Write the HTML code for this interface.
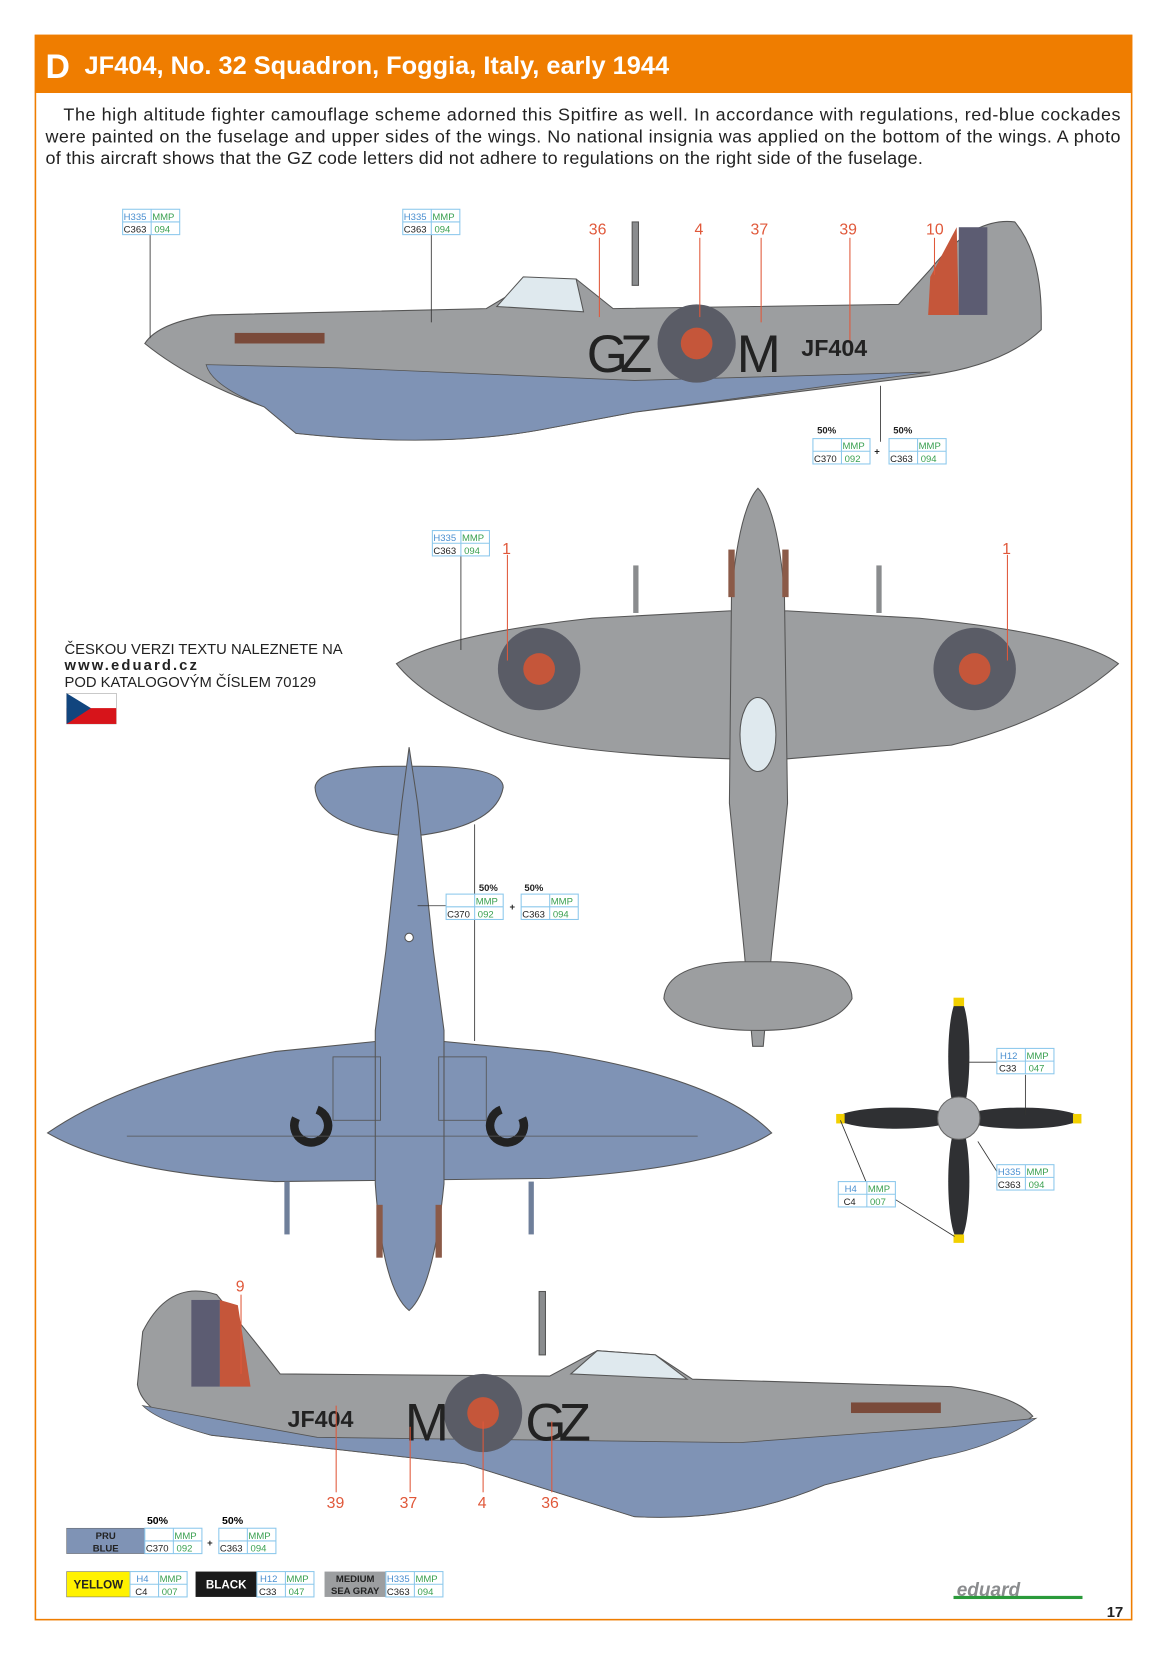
<!DOCTYPE html>
<html><head><meta charset="utf-8"><style>
html,body{margin:0;padding:0;background:#fff;width:1166px;height:1654px;overflow:hidden}
svg{display:block}
text{font-family:"Liberation Sans",sans-serif}
.c{font-size:9px}
.r{fill:#e0583a;font-size:15px}
</style></head><body>
<svg width="1166" height="1654" viewBox="0 0 1103 1565" preserveAspectRatio="none" xmlns="http://www.w3.org/2000/svg">
<defs>
<g id="box">
<rect x="0" y="0" width="54" height="24" fill="#fff" stroke="#8cc8ec" stroke-width="1"/>
<line x1="0" y1="12" x2="54" y2="12" stroke="#8cc8ec"/>
<line x1="27" y1="0" x2="27" y2="24" stroke="#8cc8ec"/>
</g>
</defs>
<rect x="33.5" y="33.5" width="1037" height="1499" fill="#fff" stroke="#ef7d00" stroke-width="1.5"/>
<rect x="33" y="33" width="1038" height="55" fill="#ef7d00"/>
<text x="43" y="74" fill="#fff" font-size="32" font-weight="bold">D</text>
<text x="80" y="70" fill="#fff" font-size="24" font-weight="bold">JF404, No. 32 Squadron, Foggia, Italy, early 1944</text>
<g font-size="17" fill="#222">
<text x="60" y="114" textLength="1000">The high altitude fighter camouflage scheme adorned this Spitfire as well. In accordance with regulations, red-blue cockades</text>
<text x="43" y="135" textLength="1017">were painted on the fuselage and upper sides of the wings. No national insignia was applied on the bottom of the wings. A photo</text>
<text x="43" y="155" textLength="830">of this aircraft shows that the GZ code letters did not adhere to regulations on the right side of the fuselage.</text>
</g>

<!-- TOP SIDE VIEW -->
<path d="M137,325 Q150,305 200,298 L460,292 L500,268 L545,264 L580,292 L850,288 L880,255 Q920,205 960,210 Q985,240 985,300 L985,312 Q950,345 880,355 L600,390 L520,405 Q420,425 280,410 L250,385 Q180,360 137,325 Z" fill="#9c9ea0" stroke="#555" stroke-width="1"/>
<path d="M195,345 L320,348 L600,360 L880,352 L600,390 L520,405 Q420,425 280,410 L250,385 Q200,365 195,345 Z" fill="#7f93b5" stroke="#555" stroke-width="0.8"/>
<path d="M470,290 L495,262 L545,264 L552,295 Z" fill="#dfe9ee" stroke="#555"/>
<rect x="598" y="210" width="6" height="60" fill="#8a8c8e" stroke="#555"/>
<path d="M880,262 L905,215 L907,298 L878,298 Z" fill="#c5563a"/>
<rect x="907" y="215" width="27" height="83" fill="#5c5c72"/>
<circle cx="659" cy="325" r="37" fill="#5a5c66"/>
<circle cx="659" cy="325" r="15" fill="#c5563a"/>
<text x="555" y="352" font-size="50" fill="#222" textLength="62">GZ</text>
<text x="697" y="352" font-size="50" fill="#222">M</text>
<text x="758" y="337" font-size="22" font-weight="bold" fill="#222">JF404</text>
<g fill="#7a4a3a"><rect x="222" y="315" width="85" height="10"/></g>
<g stroke="#e0583a" stroke-width="1"><line x1="567" y1="225" x2="567" y2="300"/><line x1="662" y1="225" x2="662" y2="300"/><line x1="720" y1="225" x2="720" y2="305"/><line x1="804" y1="225" x2="804" y2="322"/><line x1="884" y1="225" x2="884" y2="260"/></g>
<text class="r" x="557" y="222">36</text><text class="r" x="657" y="222">4</text><text class="r" x="710" y="222">37</text><text class="r" x="794" y="222">39</text><text class="r" x="876" y="222">10</text>
<g stroke="#333" stroke-width="0.8"><line x1="142" y1="222" x2="142" y2="320"/><line x1="408" y1="222" x2="408" y2="305"/><line x1="833" y1="365" x2="833" y2="418"/></g>

<!-- TOP VIEW -->
<path d="M375,628 Q420,600 560,585 L690,578 L745,578 L870,585 Q1020,600 1058,628 Q1000,680 900,705 L745,718 L690,718 Q520,712 470,690 Q400,660 375,628 Z" fill="#9c9ea0" stroke="#555"/>
<path d="M717,462 Q735,480 742,560 L745,760 L730,900 L722,990 L712,990 L704,900 L690,760 L692,560 Q700,480 717,462 Z" fill="#9c9ea0" stroke="#555"/>
<path d="M628,945 Q630,912 700,910 L735,910 Q806,912 806,945 Q790,975 717,975 Q640,975 628,945 Z" fill="#9c9ea0" stroke="#555"/>
<ellipse cx="717" cy="695" rx="17" ry="35" fill="#dfe9ee" stroke="#555"/>
<circle cx="510" cy="633" r="39" fill="#5a5c66"/><circle cx="510" cy="633" r="15" fill="#c5563a"/>
<circle cx="922" cy="633" r="39" fill="#5a5c66"/><circle cx="922" cy="633" r="15" fill="#c5563a"/>
<rect x="599" y="535" width="5" height="45" fill="#8a8c8e"/><rect x="829" y="535" width="5" height="45" fill="#8a8c8e"/>
<g fill="#8b5a48"><rect x="689" y="520" width="6" height="45"/><rect x="740" y="520" width="6" height="45"/></g>
<g stroke="#e0583a"><line x1="480" y1="525" x2="480" y2="625"/><line x1="953" y1="525" x2="953" y2="625"/></g>
<text class="r" x="475" y="524">1</text><text class="r" x="948" y="524">1</text>
<line x1="436" y1="526" x2="436" y2="615" stroke="#333" stroke-width="0.8"/>
<g font-size="14" fill="#222"><text x="61" y="619">ČESKOU VERZI TEXTU NALEZNETE NA</text>
<text x="61" y="634" font-weight="bold" font-size="14" letter-spacing="2">www.eduard.cz</text>
<text x="61" y="650">POD KATALOGOVÝM ČÍSLEM 70129</text></g>
<rect x="63" y="656" width="47" height="29" fill="#fff" stroke="#999" stroke-width="0.5"/>
<rect x="63" y="670" width="47" height="15" fill="#d7141a"/>
<path d="M63,656 L86,670 L63,685 Z" fill="#11457e"/>

<!-- BOTTOM VIEW -->
<path d="M298,745 Q300,725 375,725 L398,725 Q476,725 476,745 Q470,780 400,790 L375,790 Q300,780 298,745 Z" fill="#7f93b5" stroke="#555"/>
<path d="M45,1072 Q120,1020 260,995 L360,985 L415,985 L520,995 Q680,1020 730,1072 Q680,1105 520,1115 L260,1118 Q110,1110 45,1072 Z" fill="#7f93b5" stroke="#555"/>
<path d="M387,707 L395,760 L410,900 L420,975 L420,1120 Q410,1220 387,1240 Q362,1220 355,1120 L355,975 L365,900 L380,760 Z" fill="#7f93b5" stroke="#555"/>
<circle cx="387" cy="887" r="4" fill="#fff" stroke="#555"/>
<rect x="269" y="1118" width="5" height="50" fill="#6f7f9a"/><rect x="500" y="1118" width="5" height="50" fill="#6f7f9a"/>
<g fill="#8b5a48"><rect x="356" y="1140" width="6" height="50"/><rect x="412" y="1140" width="6" height="50"/></g>
<path d="M280,1058 a16,16 0 1,0 20,-8" fill="none" stroke="#222" stroke-width="8"/>
<path d="M494,1058 a16,16 0 1,1 -20,-8" fill="none" stroke="#222" stroke-width="8"/>
<g stroke="#555" fill="none" stroke-width="0.8"><rect x="315" y="1000" width="45" height="60"/><rect x="415" y="1000" width="45" height="60"/><line x1="120" y1="1075" x2="660" y2="1075"/></g>
<g stroke="#333" stroke-width="0.8"><line x1="449" y1="780" x2="449" y2="985"/><line x1="395" y1="857" x2="422" y2="857"/></g>

<!-- PROPELLER -->
<g fill="#2f3033">
<ellipse cx="907" cy="1000" rx="10" ry="55"/><ellipse cx="907" cy="1118" rx="10" ry="55"/>
<ellipse cx="848" cy="1058" rx="55" ry="10"/><ellipse cx="966" cy="1058" rx="55" ry="10"/></g>
<g fill="#f2d000"><rect x="902" y="944" width="10" height="8"/><rect x="902" y="1168" width="10" height="8"/><rect x="791" y="1054" width="8" height="9"/><rect x="1015" y="1054" width="8" height="9"/></g>
<circle cx="907" cy="1058" r="20" fill="#a8aaad" stroke="#666"/>
<g stroke="#333" stroke-width="0.8"><line x1="912" y1="1005" x2="944" y2="1005"/><line x1="925" y1="1080" x2="944" y2="1110"/><line x1="795" y1="1060" x2="820" y2="1120"/><line x1="847" y1="1135" x2="903" y2="1170"/><line x1="970" y1="1017" x2="970" y2="1055"/></g>

<!-- BOTTOM SIDE VIEW -->
<path d="M977,1340 Q960,1320 900,1312 L655,1305 L620,1282 L565,1278 L520,1302 L265,1300 Q230,1255 205,1225 Q160,1210 135,1260 L130,1310 Q135,1340 200,1358 L440,1385 L600,1435 Q700,1440 780,1405 L880,1380 Q950,1360 977,1340 Z" fill="#9c9ea0" stroke="#555"/>
<path d="M980,1342 Q940,1370 880,1380 L780,1405 Q700,1440 600,1435 L440,1385 L200,1358 Q150,1345 135,1330 L300,1360 L700,1365 L900,1350 Z" fill="#7f93b5" stroke="#555" stroke-width="0.8"/>
<path d="M540,1300 L565,1278 L620,1282 L650,1305 Z" fill="#dfe9ee" stroke="#555"/>
<rect x="510" y="1222" width="6" height="60" fill="#8a8c8e" stroke="#555"/>
<rect x="181" y="1230" width="27" height="82" fill="#5c5c72"/>
<path d="M208,1230 L225,1235 L237,1312 L208,1312 Z" fill="#c5563a"/>
<circle cx="457" cy="1337" r="37" fill="#5a5c66"/><circle cx="457" cy="1337" r="15" fill="#c5563a"/>
<text x="272" y="1350" font-size="22" font-weight="bold" fill="#222">JF404</text>
<text x="383" y="1363" font-size="50" fill="#222">M</text>
<text x="497" y="1363" font-size="50" fill="#222" textLength="62">GZ</text>
<rect x="805" y="1327" width="85" height="10" fill="#7a4a3a"/>
<g stroke="#e0583a"><line x1="228" y1="1225" x2="228" y2="1300"/><line x1="318" y1="1330" x2="318" y2="1412"/><line x1="388" y1="1350" x2="388" y2="1412"/><line x1="457" y1="1345" x2="457" y2="1412"/><line x1="522" y1="1345" x2="522" y2="1412"/></g>
<text class="r" x="223" y="1222">9</text><text class="r" x="309" y="1427">39</text><text class="r" x="378" y="1427">37</text><text class="r" x="452" y="1427">4</text><text class="r" x="512" y="1427">36</text>

<!-- label boxes -->
<g class="c">
<g transform="translate(116,198)"><use href="#box"/><text x="1" y="10" fill="#4a8fd0">H335</text><text x="28" y="10" fill="#3aa050">MMP</text><text x="1" y="22" fill="#222">C363</text><text x="30" y="22" fill="#3aa050">094</text></g>
<g transform="translate(381,198)"><use href="#box"/><text x="1" y="10" fill="#4a8fd0">H335</text><text x="28" y="10" fill="#3aa050">MMP</text><text x="1" y="22" fill="#222">C363</text><text x="30" y="22" fill="#3aa050">094</text></g>
<g transform="translate(409,502)"><use href="#box"/><text x="1" y="10" fill="#4a8fd0">H335</text><text x="28" y="10" fill="#3aa050">MMP</text><text x="1" y="22" fill="#222">C363</text><text x="30" y="22" fill="#3aa050">094</text></g>
<g transform="translate(769,415)"><use href="#box"/><text x="28" y="10" fill="#3aa050">MMP</text><text x="1" y="22" fill="#222">C370</text><text x="30" y="22" fill="#3aa050">092</text></g>
<g transform="translate(841,415)"><use href="#box"/><text x="28" y="10" fill="#3aa050">MMP</text><text x="1" y="22" fill="#222">C363</text><text x="30" y="22" fill="#3aa050">094</text></g>
<g transform="translate(422,846)"><use href="#box"/><text x="28" y="10" fill="#3aa050">MMP</text><text x="1" y="22" fill="#222">C370</text><text x="30" y="22" fill="#3aa050">092</text></g>
<g transform="translate(493,846)"><use href="#box"/><text x="28" y="10" fill="#3aa050">MMP</text><text x="1" y="22" fill="#222">C363</text><text x="30" y="22" fill="#3aa050">094</text></g>
<g transform="translate(943,992)"><use href="#box"/><text x="3" y="10" fill="#4a8fd0">H12</text><text x="28" y="10" fill="#3aa050">MMP</text><text x="2" y="22" fill="#222">C33</text><text x="30" y="22" fill="#3aa050">047</text></g>
<g transform="translate(943,1102)"><use href="#box"/><text x="1" y="10" fill="#4a8fd0">H335</text><text x="28" y="10" fill="#3aa050">MMP</text><text x="1" y="22" fill="#222">C363</text><text x="30" y="22" fill="#3aa050">094</text></g>
<g transform="translate(793,1118)"><use href="#box"/><text x="6" y="10" fill="#4a8fd0">H4</text><text x="28" y="10" fill="#3aa050">MMP</text><text x="5" y="22" fill="#222">C4</text><text x="30" y="22" fill="#3aa050">007</text></g>
</g>
<g font-size="9" font-weight="bold" fill="#222"><text x="773" y="410">50%</text><text x="845" y="410">50%</text><text x="827" y="430">+</text>
<text x="453" y="843">50%</text><text x="496" y="843">50%</text><text x="482" y="861">+</text></g>

<!-- legend -->
<g class="c">
<text x="139" y="1442" font-size="10" font-weight="bold">50%</text><text x="210" y="1442" font-size="10" font-weight="bold">50%</text>
<rect x="63" y="1446" width="74" height="24" fill="#7f93b5" stroke="#666" stroke-width="0.5"/>
<text x="100" y="1456" text-anchor="middle" font-weight="bold" fill="#222">PRU</text><text x="100" y="1468" text-anchor="middle" font-weight="bold" fill="#222">BLUE</text>
<g transform="translate(137,1446)"><use href="#box"/><text x="28" y="10" fill="#3aa050">MMP</text><text x="1" y="22" fill="#222">C370</text><text x="30" y="22" fill="#3aa050">092</text></g>
<text x="196" y="1463" font-weight="bold" fill="#222">+</text>
<g transform="translate(207,1446)"><use href="#box"/><text x="28" y="10" fill="#3aa050">MMP</text><text x="1" y="22" fill="#222">C363</text><text x="30" y="22" fill="#3aa050">094</text></g>
<rect x="63" y="1487" width="60" height="24" fill="#fff200" stroke="#666" stroke-width="0.5"/><text x="93" y="1503" text-anchor="middle" font-size="11" font-weight="bold" fill="#222">YELLOW</text>
<g transform="translate(123,1487)"><use href="#box"/><text x="6" y="10" fill="#4a8fd0">H4</text><text x="28" y="10" fill="#3aa050">MMP</text><text x="5" y="22" fill="#222">C4</text><text x="30" y="22" fill="#3aa050">007</text></g>
<rect x="185" y="1487" width="58" height="24" fill="#1a1a1a"/><text x="214" y="1503" text-anchor="middle" font-size="11" font-weight="bold" fill="#fff">BLACK</text>
<g transform="translate(243,1487)"><use href="#box"/><text x="3" y="10" fill="#4a8fd0">H12</text><text x="28" y="10" fill="#3aa050">MMP</text><text x="2" y="22" fill="#222">C33</text><text x="30" y="22" fill="#3aa050">047</text></g>
<rect x="307" y="1487" width="58" height="24" fill="#9c9ea0"/><text x="336" y="1497" text-anchor="middle" font-weight="bold" fill="#222">MEDIUM</text><text x="336" y="1508" text-anchor="middle" font-weight="bold" fill="#222">SEA GRAY</text>
<g transform="translate(365,1487)"><use href="#box"/><text x="1" y="10" fill="#4a8fd0">H335</text><text x="28" y="10" fill="#3aa050">MMP</text><text x="1" y="22" fill="#222">C363</text><text x="30" y="22" fill="#3aa050">094</text></g>
</g>
<text x="905" y="1510" font-size="18" font-weight="bold" fill="#8a8c8e" font-style="italic">eduard</text>
<rect x="902" y="1510" width="122" height="3" fill="#2a9a3a"/>
<text x="1047" y="1530" font-size="14" font-weight="bold" fill="#222">17</text>
</svg>
</body></html>
